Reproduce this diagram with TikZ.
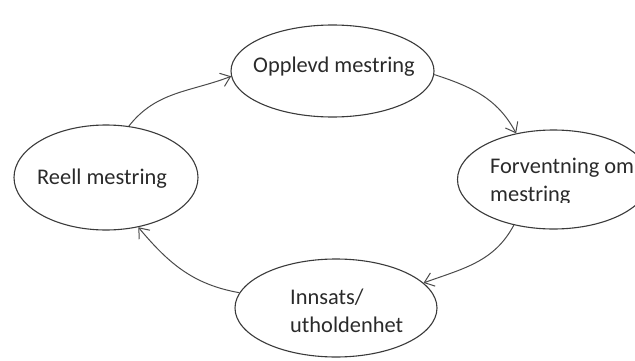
\documentclass[tikz,border=0pt]{standalone}
\usepackage{fontspec}
\setmainfont{Carlito}
\usetikzlibrary{shapes.geometric,arrows.meta}
\definecolor{rim}{HTML}{3A3A3A}
\definecolor{wire}{HTML}{4A4A4A}
\definecolor{ink}{HTML}{2A2A2A}
\tikzset{
  bubble/.style={ellipse, draw=rim, line width=1.1pt, inner sep=0pt},
  label/.style={anchor=base west, inner sep=0pt, text=ink,
    font=\fontsize{22.4}{27}\selectfont},
  flow/.style={draw=wire, line width=1pt,
    -{Straight Barb[length=9pt,width=14pt,line width=1pt]}}
}
\begin{document}
\begin{tikzpicture}[x=1pt,y=1pt]
  \useasboundingbox (0,0) rectangle (635,360);
  \clip (0,0) rectangle (635,360);

  % the four stages of the cycle
  \node[bubble, minimum width=203pt, minimum height=92pt]  (opplevd) at (332.5,289) {};
  \node[bubble, minimum width=184pt, minimum height=105pt] (reell)   at (106,182.5) {};
  \node[bubble, minimum width=192pt, minimum height=99pt]  (forv)    at (553.5,180.5) {};
  \node[bubble, minimum width=202pt, minimum height=98pt]  (innsats) at (336,52) {};

  % captions
  \node[label] (topplevd) at (253,288) {Opplevd mestring};
  \node[label] (treell)   at (37,176)  {Reell mestring};
  \node[label] (tforv)    at (490,187) {Forventning om};
  \begin{scope}
    \clip (440,158) rectangle (640,240);
    \node[label] (tforv2) at (490,159) {mestring};
  \end{scope}
  \node[label] (tinn1) at (290,56) {Innsats/};
  \node[label] (tinn2) at (290,28) {utholdenhet};

  % arrows around the cycle
  \draw[flow] (reell.66.5)  to[out=52,  in=201] (opplevd.183.5);
  \draw[flow] (opplevd.-2.5) to[out=-18, in=118] (forv.129);
  \draw[flow] (forv.229)    to[out=-118, in=20] (innsats.16);
  \draw[flow] (innsats.171) to[out=170, in=-50] (reell.-57);
\end{tikzpicture}
\end{document}
